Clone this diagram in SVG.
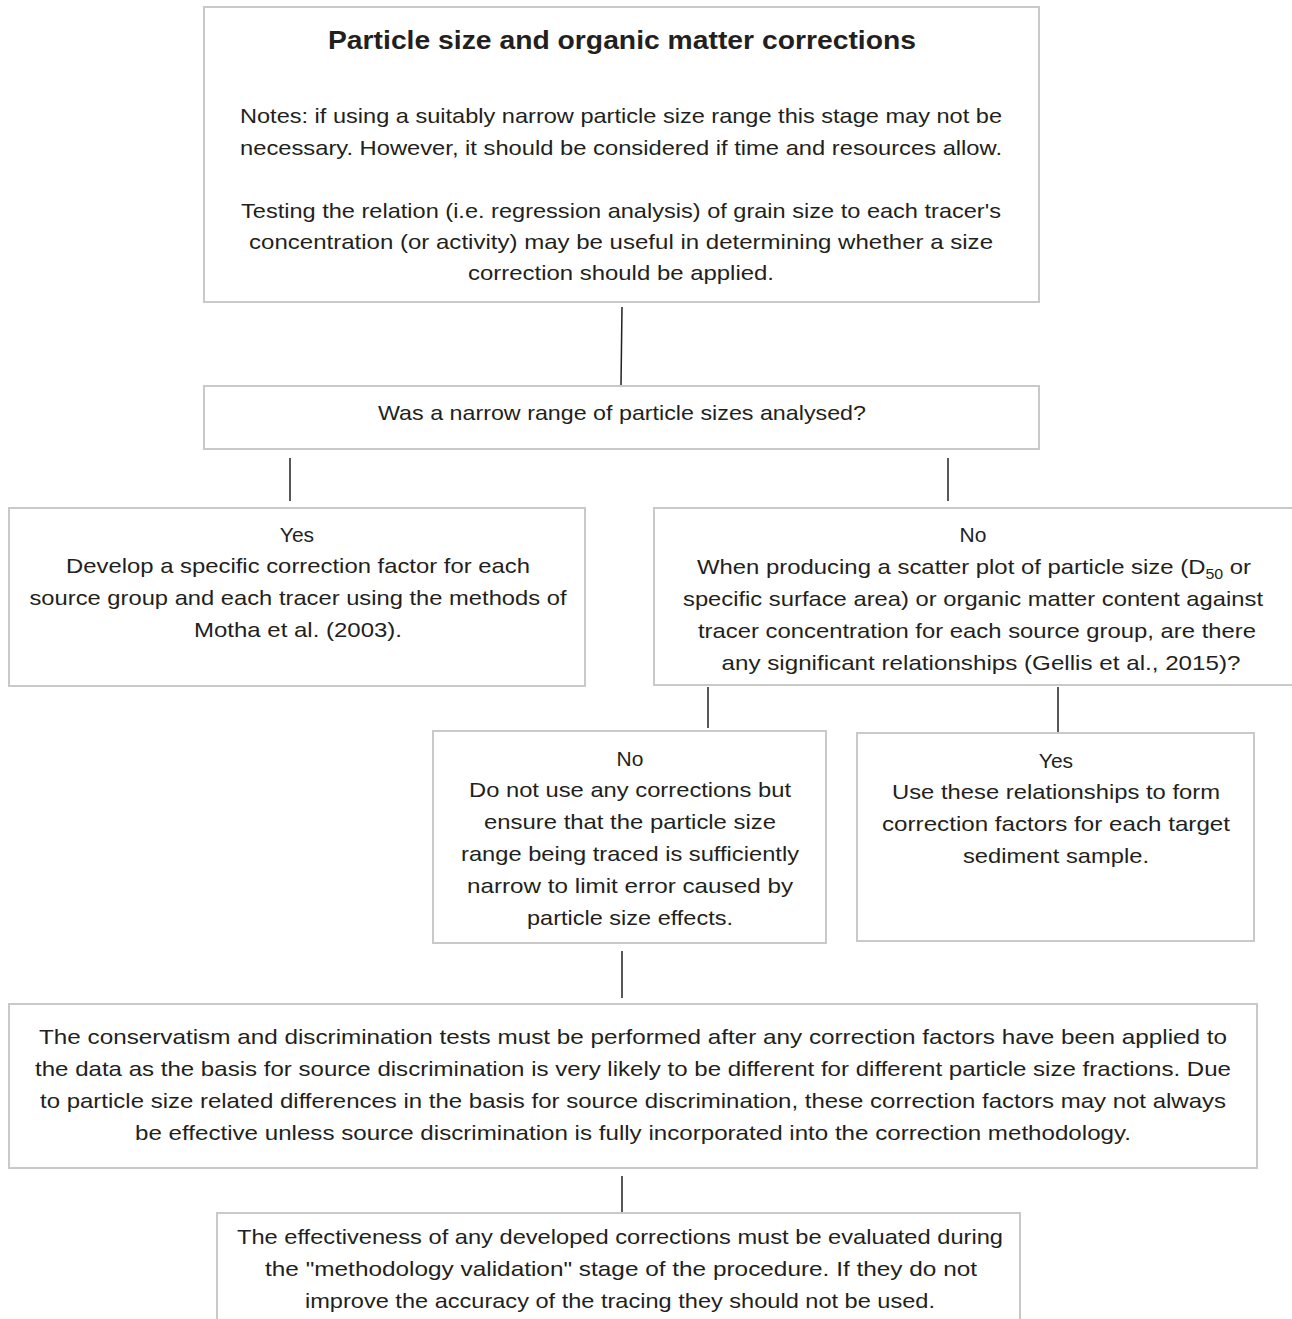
<svg xmlns="http://www.w3.org/2000/svg" width="1292" height="1319" viewBox="0 0 1292 1319">
<style>
.box{fill:#fff;stroke:#c9c9c9;stroke-width:2}
.t{font-family:"Liberation Sans",Arial,sans-serif;font-size:21px;fill:#231f20;text-anchor:middle}
.b{font-family:"Liberation Sans",Arial,sans-serif;font-size:26px;font-weight:bold;fill:#231f20;text-anchor:middle}
.c{stroke:#231f20;stroke-width:1.5;fill:none}
</style>
<rect width="1292" height="1319" fill="#fff"/>
<g id="connectors">
<line class="c" x1="622" y1="307" x2="621" y2="385"/>
<line class="c" x1="290" y1="458" x2="290" y2="501"/>
<line class="c" x1="948" y1="458" x2="948" y2="501"/>
<line class="c" x1="708" y1="687" x2="708" y2="728"/>
<line class="c" x1="1058" y1="687" x2="1058" y2="733"/>
<line class="c" x1="622" y1="951" x2="622" y2="998"/>
<line class="c" x1="622" y1="1176" x2="622" y2="1213"/>
</g>
<g id="n1">
<rect class="box" x="204" y="7" width="835" height="295"/>
<text class="b" x="622" y="49" textLength="588" lengthAdjust="spacingAndGlyphs">Particle size and organic matter corrections</text>
<text class="t" x="621" y="123" textLength="762" lengthAdjust="spacingAndGlyphs">Notes: if using a suitably narrow particle size range this stage may not be</text>
<text class="t" x="621" y="155" textLength="762" lengthAdjust="spacingAndGlyphs">necessary. However, it should be considered if time and resources allow.</text>
<text class="t" x="621" y="218" textLength="760" lengthAdjust="spacingAndGlyphs">Testing the relation (i.e. regression analysis) of grain size to each tracer's</text>
<text class="t" x="621" y="249" textLength="744" lengthAdjust="spacingAndGlyphs">concentration (or activity) may be useful in determining whether a size</text>
<text class="t" x="621" y="280" textLength="306" lengthAdjust="spacingAndGlyphs">correction should be applied.</text>
</g>
<g id="n2">
<rect class="box" x="204" y="386" width="835" height="63"/>
<text class="t" x="622" y="420" textLength="488" lengthAdjust="spacingAndGlyphs">Was a narrow range of particle sizes analysed?</text>
</g>
<g id="n3">
<rect class="box" x="9" y="508" width="576" height="178"/>
<text class="t" x="297" y="542">Yes</text>
<text class="t" x="298" y="573" textLength="464" lengthAdjust="spacingAndGlyphs">Develop a specific correction factor for each</text>
<text class="t" x="298" y="605" textLength="537" lengthAdjust="spacingAndGlyphs">source group and each tracer using the methods of</text>
<text class="t" x="298" y="637" textLength="208" lengthAdjust="spacingAndGlyphs">Motha et al. (2003).</text>
</g>
<g id="n4">
<rect class="box" x="654" y="508" width="645" height="177"/>
<text class="t" x="973" y="542">No</text>
<text class="t" x="974" y="574" textLength="554" lengthAdjust="spacingAndGlyphs">When producing a scatter plot of particle size (D<tspan font-size="14" dy="5">50</tspan><tspan dy="-5"> or</tspan></text>
<text class="t" x="973" y="606" textLength="580" lengthAdjust="spacingAndGlyphs">specific surface area) or organic matter content against</text>
<text class="t" x="977" y="638" textLength="558" lengthAdjust="spacingAndGlyphs">tracer concentration for each source group, are there</text>
<text class="t" x="981" y="670" textLength="519" lengthAdjust="spacingAndGlyphs">any significant relationships (Gellis et al., 2015)?</text>
</g>
<g id="n5">
<rect class="box" x="433" y="731" width="393" height="212"/>
<text class="t" x="630" y="766">No</text>
<text class="t" x="630" y="797" textLength="322" lengthAdjust="spacingAndGlyphs">Do not use any corrections but</text>
<text class="t" x="630" y="829" textLength="292" lengthAdjust="spacingAndGlyphs">ensure that the particle size</text>
<text class="t" x="630" y="861" textLength="338" lengthAdjust="spacingAndGlyphs">range being traced is sufficiently</text>
<text class="t" x="630" y="893" textLength="326" lengthAdjust="spacingAndGlyphs">narrow to limit error caused by</text>
<text class="t" x="630" y="925" textLength="206" lengthAdjust="spacingAndGlyphs">particle size effects.</text>
</g>
<g id="n6">
<rect class="box" x="857" y="733" width="397" height="208"/>
<text class="t" x="1056" y="768">Yes</text>
<text class="t" x="1056" y="799" textLength="328" lengthAdjust="spacingAndGlyphs">Use these relationships to form</text>
<text class="t" x="1056" y="831" textLength="348" lengthAdjust="spacingAndGlyphs">correction factors for each target</text>
<text class="t" x="1056" y="863" textLength="186" lengthAdjust="spacingAndGlyphs">sediment sample.</text>
</g>
<g id="n7">
<rect class="box" x="9" y="1004" width="1248" height="164"/>
<text class="t" x="633" y="1044" textLength="1188" lengthAdjust="spacingAndGlyphs">The conservatism and discrimination tests must be performed after any correction factors have been applied to</text>
<text class="t" x="633" y="1076" textLength="1196" lengthAdjust="spacingAndGlyphs">the data as the basis for source discrimination is very likely to be different for different particle size fractions.  Due</text>
<text class="t" x="633" y="1108" textLength="1186" lengthAdjust="spacingAndGlyphs">to particle size related differences in the basis for source discrimination, these correction factors may not always</text>
<text class="t" x="633" y="1140" textLength="996" lengthAdjust="spacingAndGlyphs">be effective unless source discrimination is fully incorporated into the correction methodology.</text>
</g>
<g id="n8">
<rect class="box" x="217" y="1213" width="803" height="120"/>
<text class="t" x="620" y="1244" textLength="766" lengthAdjust="spacingAndGlyphs">The effectiveness of any developed corrections must be evaluated during</text>
<text class="t" x="621" y="1276" textLength="712" lengthAdjust="spacingAndGlyphs">the "methodology validation" stage of the procedure. If they do not</text>
<text class="t" x="620" y="1308" textLength="630" lengthAdjust="spacingAndGlyphs">improve the accuracy of the tracing they should not be used.</text>
</g>
</svg>
